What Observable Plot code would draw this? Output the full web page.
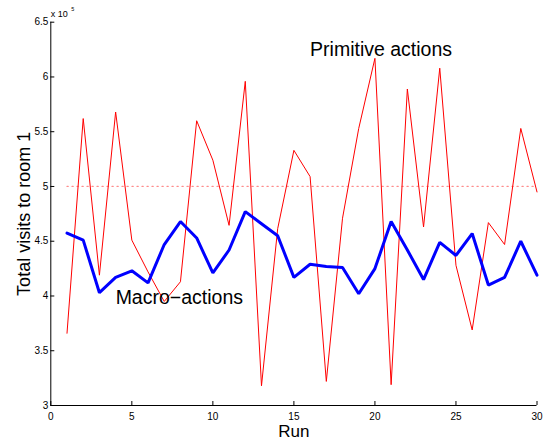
<!DOCTYPE html>
<html>
<head>
<meta charset="utf-8">
<script src="https://cdn.jsdelivr.net/npm/d3@7"></script>
<script src="https://cdn.jsdelivr.net/npm/@observablehq/plot@0.6"></script>
<style>
  html, body { margin: 0; padding: 0; background: #fff; }
</style>
</head>
<body>
<div id="chart"></div>
<script>
const runs = [1,2,3,4,5,6,7,8,9,10,11,12,13,14,15,16,17,18,19,20,21,22,23,24,25,26,27,28,29,30];
// Total visits to room 1, in units of 10^5
const primitive = [3.66,5.62,4.19,5.68,4.51,4.22,3.95,4.13,5.60,5.24,4.645,5.96,3.18,4.615,5.33,5.09,3.22,4.71,5.53,6.17,3.19,5.89,4.63,6.08,4.28,3.69,4.67,4.47,5.53,4.95];
const macro = [4.575,4.51,4.03,4.17,4.23,4.12,4.47,4.68,4.53,4.21,4.42,4.77,4.66,4.55,4.17,4.29,4.27,4.26,4.02,4.25,4.68,4.42,4.15,4.49,4.37,4.57,4.10,4.17,4.50,4.19];
const referenceLevel = 5;
const refRuns = [1, 30];
const xTicks = [0,5,10,15,20,25,30];
const yTicks = [3,3.5,4,4.5,5,5.5,6,6.5];
const labels = [
  {text: "Primitive actions", x: 16, y: 6.19},
  {text: "Macro\u2212actions", x: 4, y: 3.93}
];

const prim = runs.map((r, i) => ({run: r, v: primitive[i]}));
const mac = runs.map((r, i) => ({run: r, v: macro[i]}));
const ref = refRuns.map(r => ({run: r, v: referenceLevel}));

const font = "'Liberation Sans', Arial, Helvetica, sans-serif";

const chart = Plot.plot({
  width: 546,
  height: 442,
  marginLeft: 50.3,
  marginRight: 9.5,
  marginTop: 21.7,
  marginBottom: 37,
  style: {fontFamily: font, background: "#fff", color: "#000"},
  x: {domain: [0, 30]},
  y: {domain: [3, 6.5]},
  marks: [
    Plot.line(ref, {x: "run", y: "v", stroke: "#ff0000", strokeOpacity: 0.45, strokeWidth: 1.2, strokeDasharray: "1.2,3.8"}),
    Plot.line(prim, {x: "run", y: "v", stroke: "#ff0000", strokeWidth: 1}),
    Plot.line(mac, {x: "run", y: "v", stroke: "#0000ff", strokeWidth: 3, strokeLinejoin: "miter"}),
    Plot.axisY({ticks: yTicks, tickSize: -4, tickPadding: 6.5, tickFormat: d => String(d), fontSize: 10, label: null}),
    Plot.axisX({ticks: xTicks, tickSize: -4, tickPadding: 11.5, tickFormat: d => String(d), fontSize: 10, label: null}),
    Plot.ruleX([0], {stroke: "#000", strokeWidth: 1}),
    Plot.ruleY([3], {stroke: "#000", strokeWidth: 1}),
    Plot.text(labels, {x: "x", y: "y", text: "text", textAnchor: "start", lineAnchor: "bottom", fontSize: 19.5, fill: "#000"}),
    Plot.text(["Total visits to room 1"], {frameAnchor: "left", textAnchor: "middle", rotate: -90, dx: -21.3, lineAnchor: "bottom", fontSize: 18, fill: "#000"}),
    Plot.text(["Run"], {frameAnchor: "bottom", textAnchor: "middle", dy: 31, lineAnchor: "bottom", fontSize: 17, fill: "#000"}),
    Plot.text(["x 10"], {frameAnchor: "top-left", dx: 0, dy: -5, lineAnchor: "bottom", textAnchor: "start", fontSize: 9, fill: "#000"}),
    Plot.text(["5"], {frameAnchor: "top-left", dx: 20.5, dy: -11.2, lineAnchor: "bottom", textAnchor: "start", fontSize: 5.5, fill: "#000"})
  ]
});
document.getElementById("chart").appendChild(chart);
</script>
</body>
</html>
